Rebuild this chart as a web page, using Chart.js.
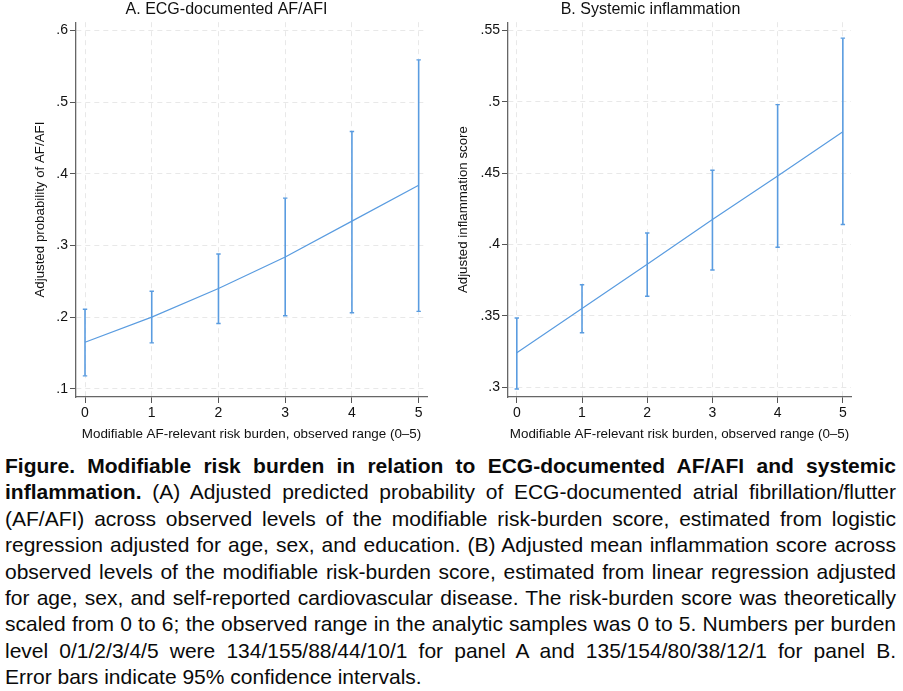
<!DOCTYPE html>
<html>
<head>
<meta charset="utf-8">
<script src="https://cdn.jsdelivr.net/npm/chart.js@4.4.1/dist/chart.umd.min.js"></script>
<style>
  html, body { margin: 0; padding: 0; background: #fff; }
  body { width: 903px; height: 691px; position: relative; overflow: hidden; font-family: "Liberation Sans", Arial, sans-serif; }
  #wa { position: absolute; left: 0; top: 0; width: 453px; height: 442px; }
  #wb { position: absolute; left: 450px; top: 0; width: 453px; height: 442px; }
  #cap { position: absolute; left: 5px; top: 453px; width: 891px; font-size: 21px; line-height: 26.4px; text-align: justify; color: #0a0a0a; }
  #cap .last { display: inline-block; }
</style>
</head>
<body>
<div id="wa"><canvas id="ca"></canvas></div>
<div id="wb"><canvas id="cb"></canvas></div>
<div id="cap"><b>Figure. Modifiable risk burden in relation to ECG-documented AF/AFI and systemic inflammation.</b> (A) Adjusted predicted probability of ECG-documented atrial fibrillation/flutter (AF/AFI) across observed levels of the modifiable risk-burden score, estimated from logistic regression adjusted for age, sex, and education. (B) Adjusted mean inflammation score across observed levels of the modifiable risk-burden score, estimated from linear regression adjusted for age, sex, and self-reported cardiovascular disease. The risk-burden score was theoretically scaled from 0 to 6; the observed range in the analytic samples was 0 to 5. Numbers per burden level 0/1/2/3/4/5 were 134/155/88/44/10/1 for panel A and 135/154/80/38/12/1 for panel B. <span class="last">Error bars indicate 95% confidence intervals.</span></div>
<script>
const burden = [0, 1, 2, 3, 4, 5];

const afEstimate = [0.165, 0.200, 0.240, 0.284, 0.334, 0.384];
const afLower    = [0.118, 0.164, 0.191, 0.202, 0.206, 0.208];
const afUpper    = [0.211, 0.236, 0.288, 0.366, 0.459, 0.559];
const afTicks    = [0.1, 0.2, 0.3, 0.4, 0.5, 0.6];

const inflEstimate = [0.324, 0.355, 0.386, 0.4175, 0.448, 0.479];
const inflLower    = [0.2986, 0.338, 0.3636, 0.382, 0.398, 0.414];
const inflUpper    = [0.3484, 0.3717, 0.408, 0.452, 0.498, 0.5446];
const inflTicks    = [0.3, 0.35, 0.4, 0.45, 0.5, 0.55];

const BLUE = '#5a9ce0';
const FONT = '"Liberation Sans", Arial, sans-serif';

function fmtTick(v) {
  const s = (Math.round(v * 1000) / 1000).toString();
  return s.replace(/^0\./, '.');
}

function makeChart(id, est, lo, hi, ticks, yTitle, title, yMin, yMax, yWidth, padLeft, padRight, yTitlePad) {
  const ciData = [];
  burden.forEach((x, i) => {
    ciData.push({x: x, y: lo[i]});
    ciData.push({x: x, y: hi[i]});
    ciData.push({x: x, y: null});
  });
  const capData = [];
  burden.forEach((x, i) => {
    capData.push({x: x, y: lo[i]});
    capData.push({x: x, y: hi[i]});
  });
  return new Chart(document.getElementById(id), {
    type: 'scatter',
    data: {
      datasets: [
        { label: 'Estimate', data: burden.map((x, i) => ({x: x, y: est[i]})), showLine: true,
          borderColor: BLUE, borderWidth: 1.2, pointRadius: 0, fill: false, tension: 0 },
        { label: '95% CI', data: ciData, showLine: true, spanGaps: false,
          borderColor: BLUE, borderWidth: 1.6, pointRadius: 0, fill: false },
        { label: 'Caps', data: capData, showLine: false, pointStyle: 'line',
          pointRadius: 2.2, borderColor: BLUE, borderWidth: 1.4, pointHoverRadius: 2.2 }
      ]
    },
    options: {
      responsive: true,
      maintainAspectRatio: false,
      animation: false,
      events: [],
      layout: { padding: { left: padLeft, right: padRight, top: 0, bottom: 0 } },
      plugins: {
        legend: { display: false },
        tooltip: { enabled: false },
        title: { display: true, text: title, color: '#111', font: { family: FONT, size: 16, weight: 'normal' },
                 padding: { top: 0, bottom: 3 } }
      },
      scales: {
        x: {
          type: 'linear', min: -0.135, max: 5.125,
          afterBuildTicks: (s) => { s.ticks = burden.map(v => ({value: v})); },
          afterFit: (s) => { s.height = 45; },
          grid: { display: true, color: '#e8e8e8', drawTicks: true, tickLength: 6, tickColor: '#555',
                  tickBorderDash: [] },
          border: { display: true, color: '#666', width: 1.3, dash: [5, 4] },
          ticks: { color: '#111', font: { family: FONT, size: 14 }, padding: 2 },
          title: { display: true, text: 'Modifiable AF-relevant risk burden, observed range (0\u20135)',
                   color: '#111', font: { family: FONT, size: 13.4 }, padding: { top: 0, bottom: 0 } }
        },
        y: {
          type: 'linear', min: yMin, max: yMax,
          afterBuildTicks: (s) => { s.ticks = ticks.map(v => ({value: v})); },
          afterFit: (s) => { s.width = yWidth; },
          grid: { display: true, color: '#e8e8e8', tickLength: 6, tickColor: '#555', tickBorderDash: [] },
          border: { display: true, color: '#666', width: 1.3, dash: [5, 4] },
          ticks: { color: '#111', font: { family: FONT, size: 14 }, padding: 2, callback: (v) => fmtTick(v) },
          title: { display: true, text: yTitle, color: '#111', font: { family: FONT, size: 13.3 },
                   padding: { top: yTitlePad, bottom: 4 } }
        }
      }
    }
  });
}

Chart.defaults.font.family = FONT;
makeChart('ca', afEstimate, afLower, afUpper, afTicks, 'Adjusted probability of AF/AFI',
          'A. ECG-documented AF/AFI', 0.0885, 0.6116, 50, 26, 26, 6);
makeChart('cb', inflEstimate, inflLower, inflUpper, inflTicks, 'Adjusted inflammation score',
          'B. Systemic inflammation', 0.293, 0.5558, 58, 0, 52, 5);
</script>
</body>
</html>
